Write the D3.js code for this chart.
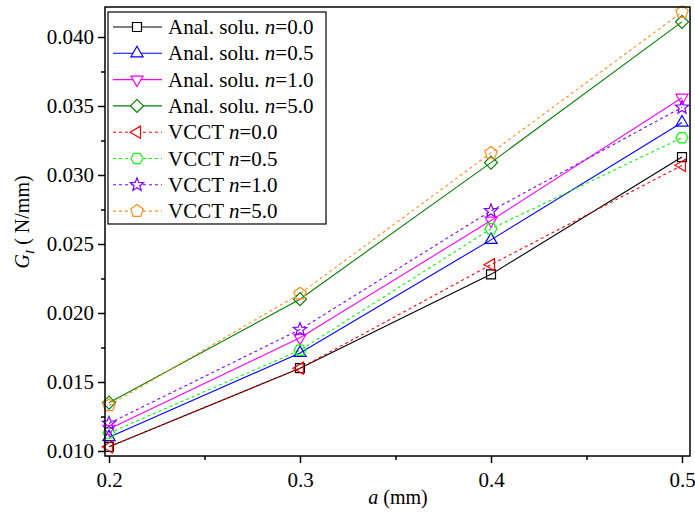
<!DOCTYPE html>
<html>
<head>
<meta charset="utf-8">
<script src="https://cdn.jsdelivr.net/npm/d3@7"></script>
<style>
  html, body { margin: 0; padding: 0; background: #fff; }
  svg { display: block; }
  svg text { font-family: "Liberation Serif", "Times New Roman", serif !important; fill: #000; }
</style>
</head>
<body>
<svg id="chart" width="695" height="515"></svg>
<script>
// crack length a (mm)
const crackLengths = [0.2, 0.3, 0.4, 0.5];

// energy release rate G_I (N/mm), analytical solution
const analN00 = [0.0103, 0.0160, 0.0228, 0.0313];
const analN05 = [0.0110, 0.0171, 0.0253, 0.0338];
const analN10 = [0.0116, 0.0182, 0.0267, 0.0356];
const analN50 = [0.0135, 0.0210, 0.0309, 0.0411];

// energy release rate G_I (N/mm), VCCT
const vcctN00 = [0.0103, 0.0160, 0.0235, 0.0307];
const vcctN05 = [0.0113, 0.0173, 0.0261, 0.0327];
const vcctN10 = [0.0120, 0.0188, 0.0274, 0.0349];
const vcctN50 = [0.0133, 0.0214, 0.0316, 0.0418];

const xTicks = [0.2, 0.3, 0.4, 0.5];
const xMinorTicks = [0.25, 0.35, 0.45];
const yTicks = [0.010, 0.015, 0.020, 0.025, 0.030, 0.035, 0.040];
const yMinorTicks = [0.0125, 0.0175, 0.0225, 0.0275, 0.0325, 0.0375];

const series = [
  { prefix: "Anal. solu. ", n: "0.0", values: analN00, color: "#000000", dash: null, shape: "square" },
  { prefix: "Anal. solu. ", n: "0.5", values: analN05, color: "#0000ff", dash: null, shape: "triUp" },
  { prefix: "Anal. solu. ", n: "1.0", values: analN10, color: "#ff00ff", dash: null, shape: "triDown" },
  { prefix: "Anal. solu. ", n: "5.0", values: analN50, color: "#008000", dash: null, shape: "diamond" },
  { prefix: "VCCT ", n: "0.0", values: vcctN00, color: "#ff0000", dash: "3,3", shape: "triLeft" },
  { prefix: "VCCT ", n: "0.5", values: vcctN05, color: "#00ff00", dash: "3,3", shape: "hexagon" },
  { prefix: "VCCT ", n: "1.0", values: vcctN10, color: "#8000ff", dash: "3,3", shape: "star" },
  { prefix: "VCCT ", n: "5.0", values: vcctN50, color: "#ff8c1a", dash: "3,3", shape: "pentagon" }
];

const FONT = "'Liberation Serif', 'Times New Roman', serif";
const plot = { left: 105, right: 690, top: 7, bottom: 456 };

const x = d3.scaleLinear()
  .domain([0.2 - 4 / 1910, 0.5 + 8 / 1910])
  .range([plot.left, plot.right]);
const y = d3.scaleLinear()
  .domain([0.010 - 5 / 13800, 0.040 + 30 / 13800])
  .range([plot.bottom, plot.top]);

const svg = d3.select("#chart");

// marker outlines centred on the origin
function polygon(n, r, rot) {
  const pts = [];
  for (let i = 0; i < n; i++) {
    const a = rot + i * 2 * Math.PI / n;
    pts.push([r * Math.cos(a), r * Math.sin(a)]);
  }
  return "M" + pts.map(p => p[0].toFixed(2) + "," + p[1].toFixed(2)).join("L") + "Z";
}
function starPath(ro, ri) {
  const pts = [];
  for (let i = 0; i < 10; i++) {
    const r = i % 2 === 0 ? ro : ri;
    const a = -Math.PI / 2 + i * Math.PI / 5;
    pts.push([r * Math.cos(a), r * Math.sin(a)]);
  }
  return "M" + pts.map(p => p[0].toFixed(2) + "," + p[1].toFixed(2)).join("L") + "Z";
}
const shapes = {
  square: "M-4.5,-4.5L4.5,-4.5L4.5,4.5L-4.5,4.5Z",
  triUp: polygon(3, 7, -Math.PI / 2),
  triDown: polygon(3, 7, Math.PI / 2),
  triLeft: polygon(3, 7, Math.PI),
  diamond: polygon(4, 6.5, -Math.PI / 2),
  hexagon: polygon(6, 6, 0),
  star: starPath(7, 3),
  pentagon: polygon(5, 6.5, -Math.PI / 2)
};

// series lines
const line = d3.line()
  .x((d, i) => x(crackLengths[i]))
  .y(d => y(d));

const gSeries = svg.append("g");
series.forEach(s => {
  gSeries.append("path")
    .attr("d", line(s.values))
    .attr("fill", "none")
    .attr("stroke", s.color)
    .attr("stroke-width", 1.1)
    .attr("stroke-dasharray", s.dash);
});
series.forEach(s => {
  gSeries.selectAll(null)
    .data(s.values)
    .enter().append("path")
    .attr("d", shapes[s.shape])
    .attr("transform", (d, i) => `translate(${x(crackLengths[i])},${y(d)})`)
    .attr("fill", "none")
    .attr("stroke", s.color)
    .attr("stroke-width", 1.2);
});

// axes
svg.append("g")
  .attr("transform", `translate(0,${plot.bottom})`)
  .call(d3.axisBottom(x).tickValues(xTicks).tickSize(7).tickPadding(9)
    .tickFormat(d3.format(".1f")));
svg.append("g")
  .attr("transform", `translate(0,${plot.bottom})`)
  .call(d3.axisBottom(x).tickValues(xMinorTicks).tickSize(4).tickFormat(""));

svg.append("g")
  .attr("transform", `translate(${plot.left},0)`)
  .call(d3.axisLeft(y).tickValues(yTicks).tickSize(7).tickPadding(4)
    .tickFormat(d3.format(".3f")));
svg.append("g")
  .attr("transform", `translate(${plot.left},0)`)
  .call(d3.axisLeft(y).tickValues(yMinorTicks).tickSize(4).tickFormat(""));

svg.selectAll(".domain").remove();
svg.selectAll(".tick").each(function () {
  d3.select(this.parentNode).attr("font-family", FONT).attr("font-size", 21);
});
svg.selectAll(".tick line").attr("stroke", "#000").attr("stroke-width", 1.5);
svg.selectAll(".tick text")
  .attr("font-family", FONT)
  .attr("font-size", 21)
  .attr("fill", "#000");

// frame
svg.append("rect")
  .attr("x", plot.left).attr("y", plot.top)
  .attr("width", plot.right - plot.left).attr("height", plot.bottom - plot.top)
  .attr("fill", "none").attr("stroke", "#000").attr("stroke-width", 1.5);

// axis titles
const yTitle = svg.append("text")
  .attr("transform", "translate(29,222) rotate(-90)")
  .attr("text-anchor", "middle")
  .attr("font-family", FONT)
  .attr("font-size", 20);
yTitle.append("tspan").attr("font-style", "italic").text("G");
yTitle.append("tspan").attr("font-style", "italic").attr("font-size", 13).attr("dy", 5).text("I");
yTitle.append("tspan").attr("dy", -5).text(" ( N/mm)");

const xTitle = svg.append("text")
  .attr("x", 398).attr("y", 504)
  .attr("text-anchor", "middle")
  .attr("font-family", FONT)
  .attr("font-size", 20);
xTitle.append("tspan").attr("font-style", "italic").text("a");
xTitle.append("tspan").text(" (mm)");

// legend
const legend = { x: 108, y: 12, w: 218, h: 212, row0: 27, step: 26.3 };
svg.append("rect")
  .attr("x", legend.x).attr("y", legend.y)
  .attr("width", legend.w).attr("height", legend.h)
  .attr("fill", "#fff").attr("stroke", "#000").attr("stroke-width", 1.2);

series.forEach((s, i) => {
  const cy = legend.row0 + i * legend.step;
  const g = svg.append("g").attr("transform", `translate(0,${cy})`);
  g.append("line")
    .attr("x1", 113).attr("x2", 162)
    .attr("stroke", s.color).attr("stroke-width", 1.1)
    .attr("stroke-dasharray", s.dash);
  g.append("path")
    .attr("d", shapes[s.shape])
    .attr("transform", "translate(137,0)")
    .attr("fill", "#fff")
    .attr("stroke", s.color).attr("stroke-width", 1.2);
  const t = g.append("text")
    .attr("x", 168).attr("y", 7)
    .attr("font-family", FONT)
    .attr("font-size", 21);
  t.append("tspan").text(s.prefix);
  t.append("tspan").attr("font-style", "italic").text("n");
  t.append("tspan").text("=" + s.n);
});
</script>
</body>
</html>
